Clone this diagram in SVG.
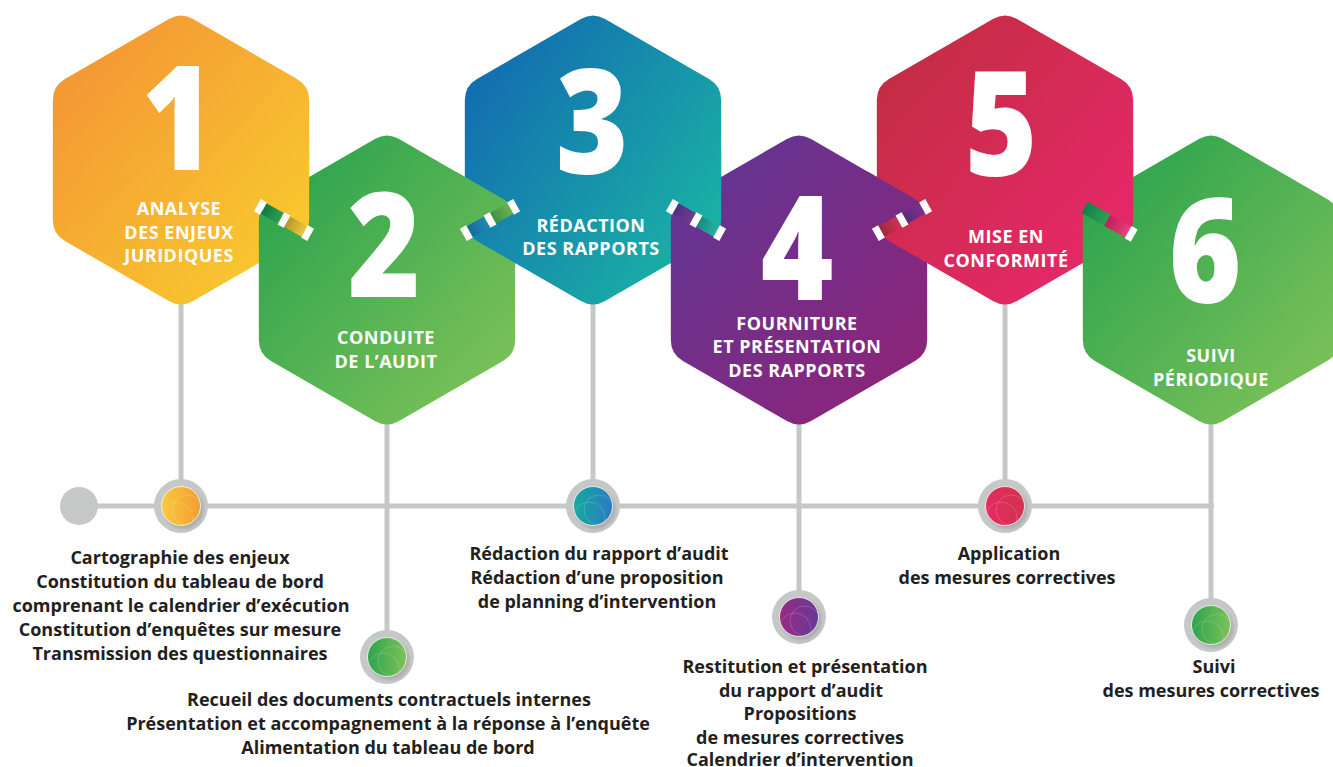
<svg xmlns="http://www.w3.org/2000/svg" width="1333" height="767" viewBox="0 0 1333 767">
<defs>
<style>
.num{font-family:"Open Sans","Liberation Sans",sans-serif;font-weight:800;font-size:146px;fill:#fff;text-anchor:middle}
.ttl{font-family:"Open Sans","Liberation Sans",sans-serif;font-weight:700;font-size:18px;fill:#fff;text-anchor:middle;letter-spacing:0.5px}
.lbl{font-family:"Open Sans","Liberation Sans",sans-serif;font-weight:700;font-size:18px;fill:#231f20;text-anchor:middle}
.ln{stroke:#c6c7c7;stroke-width:5;fill:none}
.ring{fill:#c6c7c7}
.cap{fill:#fff}
.shd{fill:#8e8f90;opacity:.45}
.inner{stroke:#fff;stroke-opacity:.75;stroke-width:1}
.arc{fill:none;stroke:#fff;stroke-opacity:.22;stroke-width:.8}
</style>
<path id="hex" d="M12.12,-141 L116.05,-81 Q128.17,-74 128.17,-60 L128.17,60 Q128.17,74 116.05,81 L12.12,141 Q0,148 -12.12,141 L-116.05,81 Q-128.17,74 -128.17,60 L-128.17,-60 Q-128.17,-74 -116.05,-81 L-12.12,-141 Q0,-148 12.12,-141 Z"/>
<clipPath id="mc"><circle r="19"/></clipPath>
<g id="arcs" clip-path="url(#mc)"><circle class="arc" cx="6" cy="4" r="15"/><circle class="arc" cx="-4" cy="12" r="16"/></g>
<filter id="blur" x="-30%" y="-30%" width="160%" height="160%"><feGaussianBlur stdDeviation="1.6"/></filter>
<linearGradient id="g1" x1="0" y1="0" x2="1" y2="1"><stop offset="0" stop-color="#f38f35"/><stop offset="1" stop-color="#f9d12d"/></linearGradient>
<linearGradient id="g2" x1="0" y1="0" x2="1" y2="1"><stop offset="0" stop-color="#22a04c"/><stop offset="1" stop-color="#86c55a"/></linearGradient>
<linearGradient id="g3" x1="0" y1="0" x2="1" y2="0.8"><stop offset="0" stop-color="#1263b2"/><stop offset="1" stop-color="#1ab5a4"/></linearGradient>
<linearGradient id="g4" x1="0" y1="0" x2="1" y2="1"><stop offset="0" stop-color="#5c3896"/><stop offset="1" stop-color="#922276"/></linearGradient>
<linearGradient id="g5" x1="0" y1="0" x2="1" y2="1"><stop offset="0" stop-color="#bf2e3d"/><stop offset="1" stop-color="#ec2770"/></linearGradient>
<linearGradient id="g6" x1="0" y1="0" x2="1" y2="1"><stop offset="0" stop-color="#22a04c"/><stop offset="1" stop-color="#86c55a"/></linearGradient>
<linearGradient id="t12a"><stop offset="0" stop-color="#0e7a45"/><stop offset="1" stop-color="#2e9e50"/></linearGradient>
<linearGradient id="t12b"><stop offset="0" stop-color="#b8972a"/><stop offset="1" stop-color="#ecc83f"/></linearGradient>
<linearGradient id="t23a"><stop offset="0" stop-color="#146a9e"/><stop offset="1" stop-color="#2388b4"/></linearGradient>
<linearGradient id="t23b"><stop offset="0" stop-color="#3d9144"/><stop offset="1" stop-color="#6db354"/></linearGradient>
<linearGradient id="t34a"><stop offset="0" stop-color="#4c2f84"/><stop offset="1" stop-color="#713a8f"/></linearGradient>
<linearGradient id="t34b"><stop offset="0" stop-color="#148c7e"/><stop offset="1" stop-color="#2ab1a1"/></linearGradient>
<linearGradient id="t45a"><stop offset="0" stop-color="#a6243b"/><stop offset="1" stop-color="#cc3452"/></linearGradient>
<linearGradient id="t45b"><stop offset="0" stop-color="#582b80"/><stop offset="1" stop-color="#7d318b"/></linearGradient>
<linearGradient id="t56a"><stop offset="0" stop-color="#10824a"/><stop offset="1" stop-color="#2ea152"/></linearGradient>
<linearGradient id="t56b"><stop offset="0" stop-color="#c21d56"/><stop offset="1" stop-color="#e2447c"/></linearGradient>
<linearGradient id="mg1"><stop offset="0" stop-color="#f9ca3e"/><stop offset="1" stop-color="#f59d33"/></linearGradient>
<linearGradient id="mg2"><stop offset="0" stop-color="#2ea44c"/><stop offset="1" stop-color="#7cc25a"/></linearGradient>
<linearGradient id="mg3"><stop offset="0" stop-color="#16aa9f"/><stop offset="1" stop-color="#2b7bc1"/></linearGradient>
<linearGradient id="mg4"><stop offset="0" stop-color="#9a2a82"/><stop offset="1" stop-color="#653a98"/></linearGradient>
<linearGradient id="mg5"><stop offset="0" stop-color="#e62a63"/><stop offset="1" stop-color="#d0334d"/></linearGradient>
<linearGradient id="mg6"><stop offset="0" stop-color="#2ea44c"/><stop offset="1" stop-color="#7cc25a"/></linearGradient>
<clipPath id="c12"><polygon points="250,201.09 250,150 320,150 320,240.02"/></clipPath>
<clipPath id="c23"><polygon points="456,238.91 456,120 524,120 524,201.09"/></clipPath>
<clipPath id="c34"><polygon points="662,201.09 662,150 732,150 732,240.02"/></clipPath>
<clipPath id="c45"><polygon points="868,238.91 868,120 936,120 936,201.09"/></clipPath>
<clipPath id="c56"><polygon points="1074,201.09 1074,150 1144,150 1144,240.02"/></clipPath>
</defs>

<g id="connectors">
<line class="ln" x1="79" y1="506" x2="1213.5" y2="506"/>
<line class="ln" x1="181" y1="290" x2="181" y2="506"/>
<line class="ln" x1="387" y1="410" x2="387" y2="657"/>
<line class="ln" x1="593" y1="290" x2="593" y2="506"/>
<line class="ln" x1="799" y1="410" x2="799" y2="617"/>
<line class="ln" x1="1005" y1="290" x2="1005" y2="506"/>
<line class="ln" x1="1211" y1="410" x2="1211" y2="625"/>
<circle cx="79" cy="506" r="19" fill="#c6c7c7"/>
</g>

<g id="step1">
<use href="#hex" transform="translate(181,160)" fill="url(#g1)"/>
<text class="num" transform="translate(178,170) scale(0.85,1)">1</text>
<text class="ttl" x="179" y="215">ANALYSE</text>
<text class="ttl" x="179" y="239">DES ENJEUX</text>
<text class="ttl" x="179" y="262">JURIDIQUES</text>
<g transform="translate(181,506)"><circle class="ring" r="27"/><circle class="shd" cx="2.5" cy="3" r="20" filter="url(#blur)"/><circle class="inner" r="19.5" fill="url(#mg1)"/><use href="#arcs"/></g>
<text class="lbl" x="180" y="564">Cartographie des enjeux</text>
<text class="lbl" x="180" y="588">Constitution du tableau de bord</text>
<text class="lbl" x="181" y="612">comprenant le calendrier d’exécution</text>
<text class="lbl" x="180" y="636">Constitution d’enquêtes sur mesure</text>
<text class="lbl" x="180" y="660">Transmission des questionnaires</text>
</g>

<g id="step2">
<use href="#hex" transform="translate(387,280)" fill="url(#g2)"/>
<text class="num" transform="translate(384,297) scale(0.85,1)">2</text>
<text class="ttl" x="386" y="344">CONDUITE</text>
<text class="ttl" x="386" y="368">DE L’AUDIT</text>
<g transform="translate(387,657)"><circle class="ring" r="27"/><circle class="shd" cx="2.5" cy="3" r="20" filter="url(#blur)"/><circle class="inner" r="19.5" fill="url(#mg2)"/><use href="#arcs"/></g>
<text class="lbl" x="389" y="706">Recueil des documents contractuels internes</text>
<text class="lbl" x="388" y="730">Présentation et accompagnement à la réponse à l’enquête</text>
<text class="lbl" x="388" y="754">Alimentation du tableau de bord</text>
</g>

<g id="step3">
<use href="#hex" transform="translate(593,160)" fill="url(#g3)"/>
<text class="num" transform="translate(592,174) scale(0.85,1)">3</text>
<text class="ttl" x="591" y="232">RÉDACTION</text>
<text class="ttl" x="591" y="255">DES RAPPORTS</text>
<g transform="translate(593,506)"><circle class="ring" r="27"/><circle class="shd" cx="2.5" cy="3" r="20" filter="url(#blur)"/><circle class="inner" r="19.5" fill="url(#mg3)"/><use href="#arcs"/></g>
<text class="lbl" x="599" y="560">Rédaction du rapport d’audit</text>
<text class="lbl" x="597" y="584">Rédaction d’une proposition</text>
<text class="lbl" x="597" y="608">de planning d’intervention</text>
</g>

<g id="step4">
<use href="#hex" transform="translate(799,280)" fill="url(#g4)"/>
<text class="num" transform="translate(797,300) scale(0.85,1)">4</text>
<text class="ttl" x="797" y="330">FOURNITURE</text>
<text class="ttl" x="797" y="353">ET PRÉSENTATION</text>
<text class="ttl" x="797" y="377">DES RAPPORTS</text>
<g transform="translate(799,617)"><circle class="ring" r="27"/><circle class="shd" cx="2.5" cy="3" r="20" filter="url(#blur)"/><circle class="inner" r="19.5" fill="url(#mg4)"/><use href="#arcs"/></g>
<text class="lbl" x="805" y="673">Restitution et présentation</text>
<text class="lbl" x="801" y="697">du rapport d’audit</text>
<text class="lbl" x="800" y="720">Propositions</text>
<text class="lbl" x="800" y="744">de mesures correctives</text>
<text class="lbl" x="800" y="766">Calendrier d’intervention</text>
</g>

<g id="step5">
<use href="#hex" transform="translate(1005,160)" fill="url(#g5)"/>
<text class="num" transform="translate(1001,176) scale(0.85,1)">5</text>
<text class="ttl" x="1006" y="243">MISE EN</text>
<text class="ttl" x="1006" y="267">CONFORMITÉ</text>
<g transform="translate(1005,506)"><circle class="ring" r="27"/><circle class="shd" cx="2.5" cy="3" r="20" filter="url(#blur)"/><circle class="inner" r="19.5" fill="url(#mg5)"/><use href="#arcs"/></g>
<text class="lbl" x="1009" y="560">Application</text>
<text class="lbl" x="1007" y="584">des mesures correctives</text>
</g>

<g id="step6">
<use href="#hex" transform="translate(1211,280)" fill="url(#g6)"/>
<text class="num" transform="translate(1205,303) scale(0.85,1)">6</text>
<text class="ttl" x="1211" y="362">SUIVI</text>
<text class="ttl" x="1211" y="386">PÉRIODIQUE</text>
<g transform="translate(1211,625)"><circle class="ring" r="27"/><circle class="shd" cx="2.5" cy="3" r="20" filter="url(#blur)"/><circle class="inner" r="19.5" fill="url(#mg6)"/><use href="#arcs"/></g>
<text class="lbl" x="1214" y="673">Suivi</text>
<text class="lbl" x="1211" y="697">des mesures correctives</text>
</g>

<g id="weave">
<g clip-path="url(#c12)"><use href="#hex" transform="translate(181,160)" fill="url(#g1)"/></g>
<g clip-path="url(#c23)"><use href="#hex" transform="translate(387,280)" fill="url(#g2)"/></g>
<g clip-path="url(#c34)"><use href="#hex" transform="translate(593,160)" fill="url(#g3)"/></g>
<g clip-path="url(#c45)"><use href="#hex" transform="translate(799,280)" fill="url(#g4)"/></g>
<g clip-path="url(#c56)"><use href="#hex" transform="translate(1005,160)" fill="url(#g5)"/></g>
</g>

<g id="tabs">
<g transform="translate(284,220) rotate(29.08)">
<rect x="-23.5" y="-6" width="20" height="12" fill="url(#t12a)"/><rect x="3.5" y="-6" width="20" height="12" fill="url(#t12b)"/>
<rect class="cap" x="-30.5" y="-7" width="7" height="14"/><rect class="cap" x="-3.5" y="-7" width="7" height="14"/><rect class="cap" x="23.5" y="-7" width="7" height="14"/>
</g>
<g transform="translate(490,220) rotate(-29.08)">
<rect x="-23.5" y="-6" width="20" height="12" fill="url(#t23a)"/><rect x="3.5" y="-6" width="20" height="12" fill="url(#t23b)"/>
<rect class="cap" x="-30.5" y="-7" width="7" height="14"/><rect class="cap" x="-3.5" y="-7" width="7" height="14"/><rect class="cap" x="23.5" y="-7" width="7" height="14"/>
</g>
<g transform="translate(696,220) rotate(29.08)">
<rect x="-23.5" y="-6" width="20" height="12" fill="url(#t34a)"/><rect x="3.5" y="-6" width="20" height="12" fill="url(#t34b)"/>
<rect class="cap" x="-30.5" y="-7" width="7" height="14"/><rect class="cap" x="-3.5" y="-7" width="7" height="14"/><rect class="cap" x="23.5" y="-7" width="7" height="14"/>
</g>
<g transform="translate(902,220) rotate(-29.08)">
<rect x="-23.5" y="-6" width="20" height="12" fill="url(#t45a)"/><rect x="3.5" y="-6" width="20" height="12" fill="url(#t45b)"/>
<rect class="cap" x="-30.5" y="-7" width="7" height="14"/><rect class="cap" x="-3.5" y="-7" width="7" height="14"/><rect class="cap" x="23.5" y="-7" width="7" height="14"/>
</g>
<g transform="translate(1108,221) rotate(29.08)">
<rect x="-27" y="-7" width="26" height="13" fill="url(#t56a)"/><rect x="-1" y="-6" width="24" height="12" fill="url(#t56b)"/>
<rect class="cap" x="23" y="-7" width="7" height="14"/>
</g>
</g>
</svg>
